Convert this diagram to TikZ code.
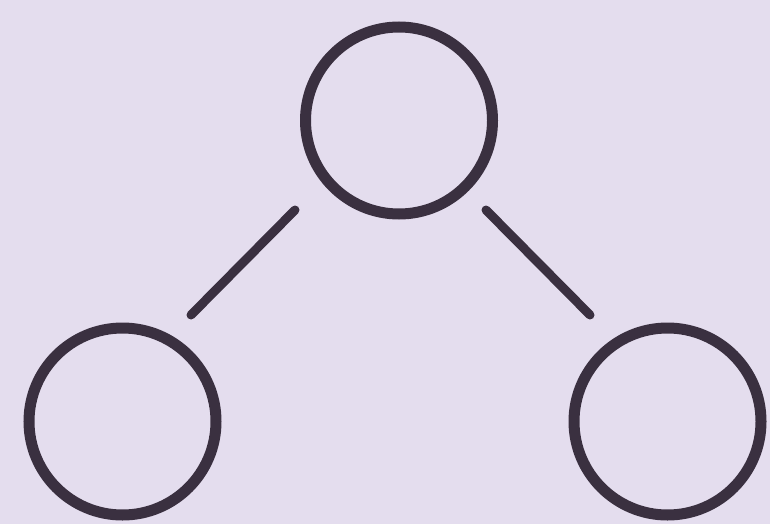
\documentclass[tikz,border=0pt]{standalone}
\definecolor{bgc}{HTML}{E4DDEE}
\definecolor{ink}{HTML}{3A3040}
\tikzset{
  ring/.style={circle, draw=ink, line width=11pt, minimum size=187pt, inner sep=0pt},
  link/.style={draw=ink, line width=9pt, line cap=round}
}
\begin{document}
\begin{tikzpicture}[x=1pt,y=-1pt]
\fill[bgc] (0,0) rectangle (770,524);
\useasboundingbox (0,0) rectangle (770,524);
\node[ring] (top) at (399,120.5) {};
\node[ring] (left) at (122.5,421.5) {};
\node[ring] (right) at (667.5,421.5) {};
\coordinate (a1) at (295,210);
\coordinate (a2) at (191,315);
\coordinate (b1) at (486,210);
\coordinate (b2) at (590,315);
\draw[link] (a1) -- (a2);
\draw[link] (b1) -- (b2);
\end{tikzpicture}
\end{document}
